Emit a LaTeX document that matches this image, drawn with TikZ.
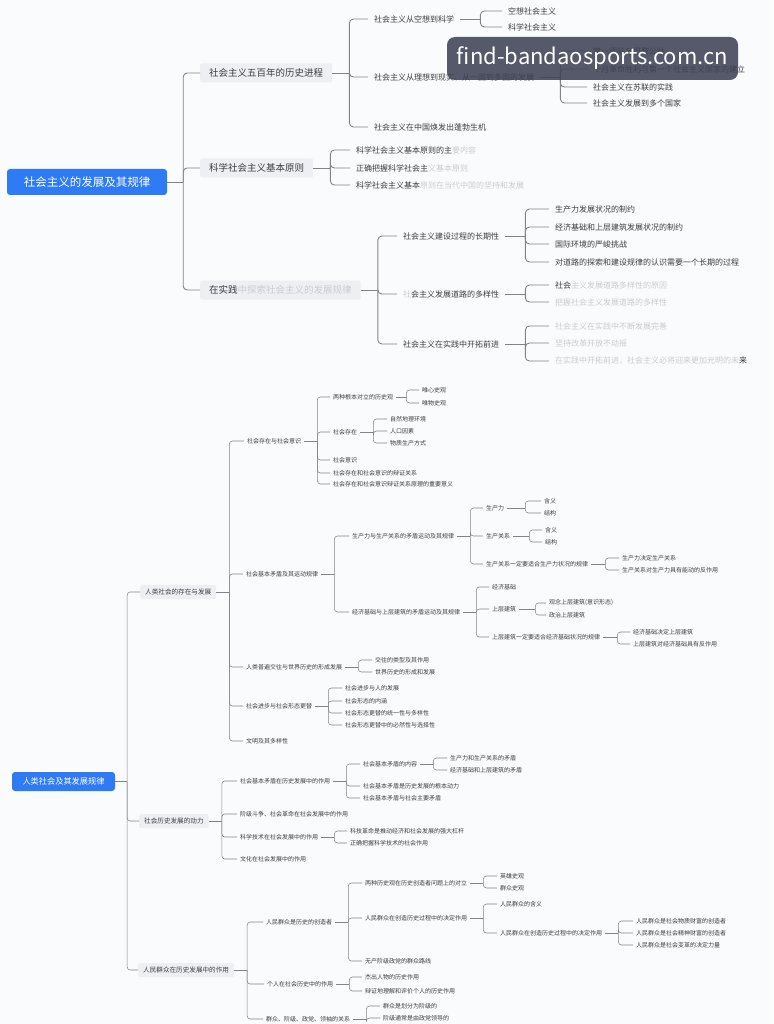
\documentclass[tikz,border=0pt]{standalone}
\usepackage{fontspec}
\newfontfamily\cjk{Noto Sans CJK SC}
\usepackage{tikz}
\usetikzlibrary{positioning}

\definecolor{rootblue}{HTML}{2F7BF6}
\definecolor{linkgray}{HTML}{80858C}
\definecolor{textgray}{HTML}{3A3D42}
\definecolor{boxgray}{HTML}{EEEFF2}
\definecolor{blurgray}{HTML}{C9CCD0}
\definecolor{markgray}{HTML}{3F4355}
\definecolor{bgcol}{HTML}{FAFBFC}

\newcommand{\blr}[1]{{\color{blurgray}#1}}
% parent -> bracket -> children
\newcommand{\kids}[4][link]{%
  \draw[#1] (#2.east) -- ++(#3,0);
  \foreach \kid in {#4}{\draw[#1] (#2.east) ++(#3,0) |- (\kid.west);}}

\tikzset{
  link/.style={draw=linkgray, line width=.9pt, rounded corners=4pt},
  slink/.style={draw=linkgray, line width=.55pt, rounded corners=3pt},
  rootbox/.style={fill=rootblue, rounded corners=3pt, text=white, inner sep=0pt,
    font=\cjk\fontsize{11.5}{12}\selectfont, minimum width=160pt, minimum height=26pt},
  rootboxs/.style={rootbox, font=\cjk\fontsize{8.2}{9}\selectfont,
    minimum width=103pt, minimum height=19pt},
  topone/.style={fill=boxgray, rounded corners=2pt, anchor=west, inner xsep=9pt,
    minimum height=19pt, text=textgray, font=\cjk\fontsize{9.5}{10}\selectfont},
  toptwo/.style={anchor=west, inner xsep=6pt, inner ysep=2pt, text=textgray,
    font=\cjk\fontsize{8}{9}\selectfont},
  botone/.style={fill=boxgray, rounded corners=2pt, anchor=west, inner xsep=5pt,
    minimum height=14pt, text=textgray, font=\cjk\fontsize{6.6}{7}\selectfont},
  bottwo/.style={anchor=west, inner xsep=3pt, inner ysep=1pt, text=textgray,
    font=\cjk\fontsize{6}{7}\selectfont},
  mark box/.style={fill=markgray, fill opacity=.88, text opacity=1, rounded corners=8pt,
    text=white, minimum width=291pt, minimum height=43pt, inner sep=0pt,
    font=\cjk\fontsize{22}{24}\selectfont}
}

\begin{document}
\begin{tikzpicture}[x=1pt, y=-1pt]
  \fill[bgcol] (0,0) rectangle (773,1024);
  \useasboundingbox (0,0) rectangle (773,1024);

  % ---------- part one ----------
  \node[rootbox] (root) at (87,182) {社会主义的发展及其规律};
  \node[topone] (p1) at (200,73) {社会主义五百年的历史进程};
  \node[topone] (p2) at (200,168) {科学社会主义基本原则};
  \node[topone] (p3) at (200,290) {在实践\blr{中探索社会主义的发展规律}};

  \node[toptwo] (q1) at (368,19) {社会主义从空想到科学};
  \node[toptwo] (q2) at (368,77) {社会主义从理想到现实、从一国到多国的发展};
  \node[toptwo] (q3) at (368,127) {社会主义在中国焕发出蓬勃生机};
  \node[toptwo] (r1) at (502,11) {空想社会主义};
  \node[toptwo] (r2) at (502,27) {科学社会主义};
  \node[toptwo] (s1) at (587,51) {第一国际与巴黎公社};
  \node[toptwo] (s2) at (587,69) {十月革命胜利与第一个社会主义国家的建立};
  \node[toptwo] (s3) at (587,87) {社会主义在苏联的实践};
  \node[toptwo] (s4) at (587,103) {社会主义发展到多个国家};

  \node[toptwo] (t1) at (350,150) {科学社会主义基本原则的主\blr{要内容}};
  \node[toptwo] (t2) at (350,168) {正确把握科学社会主\blr{义基本原则}};
  \node[toptwo] (t3) at (350,185) {科学社会主义基本\blr{原则在当代中国的坚持和发展}};

  \node[toptwo] (u1) at (397,236) {社会主义建设过程的长期性};
  \node[toptwo] (u2) at (397,294) {\blr{社}会主义发展道路的多样性};
  \node[toptwo] (u3) at (397,344) {社会主义在实践中开拓前进};
  \node[toptwo] (v1) at (549,209) {生产力发展状况的制约};
  \node[toptwo] (v2) at (549,227) {经济基础和上层建筑发展状况的制约};
  \node[toptwo] (v3) at (549,244) {国际环境的严峻挑战};
  \node[toptwo] (v4) at (549,262) {对道路的探索和建设规律的认识需要一个长期的过程};
  \node[toptwo] (w1) at (549,285) {社会\blr{主义发展道路多样性的原因}};
  \node[toptwo] (w2) at (549,302) {\blr{把握社会主义发展道路的多样性}};
  \node[toptwo] (x1) at (549,326) {\blr{社会主义在实践中不断发展完善}};
  \node[toptwo] (x2) at (549,343) {\blr{坚持改革开放不动摇}};
  \node[toptwo] (x3) at (549,361) {\blr{在实践中开拓前进，社会主义必将迎来更加光明的未}来};

  \kids{root}{16}{p1,p2,p3}
  \kids{p1}{17}{q1,q2,q3}
  \kids{q1}{20}{r1,r2}
  \kids{q2}{20}{s1,s2,s3,s4}
  \kids{p2}{17}{t1,t2,t3}
  \kids{p3}{17}{u1,u2,u3}
  \kids{u1}{20}{v1,v2,v3,v4}
  \kids{u2}{20}{w1,w2}
  \kids{u3}{20}{x1,x2,x3}

  % ---------- part two ----------
  \node[rootboxs] (root2) at (63.5,781.5) {人类社会及其发展规律};
  \node[botone] (A1) at (140,592) {人类社会的存在与发展};
  \node[botone] (A2) at (139,821) {社会历史发展的动力};
  \node[botone] (A3) at (138,970) {人民群众在历史发展中的作用};

  \node[bottwo] (a1) at (244,441) {社会存在与社会意识};
  \node[bottwo] (a2) at (243,574) {社会基本矛盾及其运动规律};
  \node[bottwo] (a3) at (243,667) {人类普遍交往与世界历史的形成发展};
  \node[bottwo] (a4) at (243,706) {社会进步与社会形态更替};
  \node[bottwo] (a5) at (243,741) {文明及其多样性};

  \node[bottwo] (b1) at (330,397) {两种根本对立的历史观};
  \node[bottwo] (b2) at (330,432) {社会存在};
  \node[bottwo] (b3) at (330,460) {社会意识};
  \node[bottwo] (b4) at (330,473) {社会存在和社会意识的辩证关系};
  \node[bottwo] (b5) at (330,484) {社会存在和社会意识辩证关系原理的重要意义};
  \node[bottwo] (bb1) at (419,390) {唯心史观};
  \node[bottwo] (bb2) at (419,403) {唯物史观};
  \node[bottwo] (bc1) at (387,419) {自然地理环境};
  \node[bottwo] (bc2) at (387,431) {人口因素};
  \node[bottwo] (bc3) at (387,443) {物质生产方式};

  \node[bottwo] (c1) at (349,536) {生产力与生产关系的矛盾运动及其规律};
  \node[bottwo] (c2) at (349,612) {经济基础与上层建筑的矛盾运动及其规律};
  \node[bottwo] (d1) at (483,508) {生产力};
  \node[bottwo] (d2) at (483,536) {生产关系};
  \node[bottwo] (d3) at (483,564) {生产关系一定要适合生产力状况的规律};
  \node[bottwo] (da1) at (541,501) {含义};
  \node[bottwo] (da2) at (541,513) {结构};
  \node[bottwo] (db1) at (542,530) {含义};
  \node[bottwo] (db2) at (542,542) {结构};
  \node[bottwo] (dc1) at (619,558) {生产力决定生产关系};
  \node[bottwo] (dc2) at (619,570) {生产关系对生产力具有能动的反作用};
  \node[bottwo] (e1) at (489,587) {经济基础};
  \node[bottwo] (e2) at (489,609) {上层建筑};
  \node[bottwo] (e3) at (489,637) {上层建筑一定要适合经济基础状况的规律};
  \node[bottwo] (eb1) at (546,603) {观念上层建筑(意识形态)};
  \node[bottwo] (eb2) at (546,615) {政治上层建筑};
  \node[bottwo] (ec1) at (630,632) {经济基础决定上层建筑};
  \node[bottwo] (ec2) at (630,644) {上层建筑对经济基础具有反作用};

  \node[bottwo] (ha1) at (372,660) {交往的类型及其作用};
  \node[bottwo] (ha2) at (372,672) {世界历史的形成和发展};
  \node[bottwo] (hb1) at (342,688) {社会进步与人的发展};
  \node[bottwo] (hb2) at (342,701) {社会形态的内涵};
  \node[bottwo] (hb3) at (342,713) {社会形态更替的统一性与多样性};
  \node[bottwo] (hb4) at (342,725) {社会形态更替中的必然性与选择性};

  \node[bottwo] (f1) at (237,781) {社会基本矛盾在历史发展中的作用};
  \node[bottwo] (f2) at (237,814) {阶级斗争、社会革命在社会发展中的作用};
  \node[bottwo] (f3) at (237,837) {科学技术在社会发展中的作用};
  \node[bottwo] (f4) at (237,859) {文化在社会发展中的作用};
  \node[bottwo] (g1) at (360,764) {社会基本矛盾的内容};
  \node[bottwo] (g2) at (360,786) {社会基本矛盾是历史发展的根本动力};
  \node[bottwo] (g3) at (360,798) {社会基本矛盾与社会主要矛盾};
  \node[bottwo] (ga1) at (447,758) {生产力和生产关系的矛盾};
  \node[bottwo] (ga2) at (447,770) {经济基础和上层建筑的矛盾};
  \node[bottwo] (fc1) at (347,831) {科技革命是推动经济和社会发展的强大杠杆};
  \node[bottwo] (fc2) at (347,843) {正确把握科学技术的社会作用};

  \node[bottwo] (h1) at (263,922) {人民群众是历史的创造者};
  \node[bottwo] (h2) at (264,984) {个人在社会历史中的作用};
  \node[bottwo] (h3) at (263,1019) {群众、阶级、政党、领袖的关系};
  \node[bottwo] (i1) at (362,883) {两种历史观在历史创造者问题上的对立};
  \node[bottwo] (i2) at (362,918) {人民群众在创造历史过程中的决定作用};
  \node[bottwo] (i3) at (362,961) {无产阶级政党的群众路线};
  \node[bottwo] (ia1) at (497,876) {英雄史观};
  \node[bottwo] (ia2) at (497,888) {群众史观};
  \node[bottwo] (ib1) at (497,904) {人民群众的含义};
  \node[bottwo] (ib2) at (497,933) {人民群众在创造历史过程中的决定作用};
  \node[bottwo] (ic1) at (633,921) {人民群众是社会物质财富的创造者};
  \node[bottwo] (ic2) at (633,933) {人民群众是社会精神财富的创造者};
  \node[bottwo] (ic3) at (633,945) {人民群众是社会变革的决定力量};
  \node[bottwo] (ja1) at (362,977) {杰出人物的历史作用};
  \node[bottwo] (ja2) at (362,991) {辩证地理解和评价个人的历史作用};
  \node[bottwo] (jb1) at (380,1006) {群众是划分为阶级的};
  \node[bottwo] (jb2) at (380,1018) {阶级通常是由政党领导的};

  \kids[slink]{root2}{12}{A1,A2,A3}
  \kids[slink]{A1}{13}{a1,a2,a3,a4,a5}
  \kids[slink]{A2}{13}{f1,f2,f3,f4}
  \kids[slink]{A3}{13}{h1,h2,h3}
  \kids[slink]{a1}{13}{b1,b2,b3,b4,b5}
  \kids[slink]{b1}{10}{bb1,bb2}
  \kids[slink]{b2}{13}{bc1,bc2,bc3}
  \kids[slink]{a2}{13}{c1,c2}
  \kids[slink]{c1}{13}{d1,d2,d3}
  \kids[slink]{d1}{18}{da1,da2}
  \kids[slink]{d2}{16}{db1,db2}
  \kids[slink]{d3}{14}{dc1,dc2}
  \kids[slink]{c2}{13}{e1,e2,e3}
  \kids[slink]{e2}{16}{eb1,eb2}
  \kids[slink]{e3}{14}{ec1,ec2}
  \kids[slink]{a3}{13}{ha1,ha2}
  \kids[slink]{a4}{13}{hb1,hb2,hb3,hb4}
  \kids[slink]{f1}{13}{g1,g2,g3}
  \kids[slink]{g1}{13}{ga1,ga2}
  \kids[slink]{f3}{13}{fc1,fc2}
  \kids[slink]{h1}{13}{i1,i2,i3}
  \kids[slink]{i1}{13}{ia1,ia2}
  \kids[slink]{i2}{13}{ib1,ib2}
  \kids[slink]{ib2}{13}{ic1,ic2,ic3}
  \kids[slink]{h2}{13}{ja1,ja2}
  \kids[slink]{h3}{13}{jb1,jb2}

  % ---------- watermark ----------
  \node[mark box] (mark) at (592.5,58.5) {find-bandaosports.com.cn};
\end{tikzpicture}
\end{document}
